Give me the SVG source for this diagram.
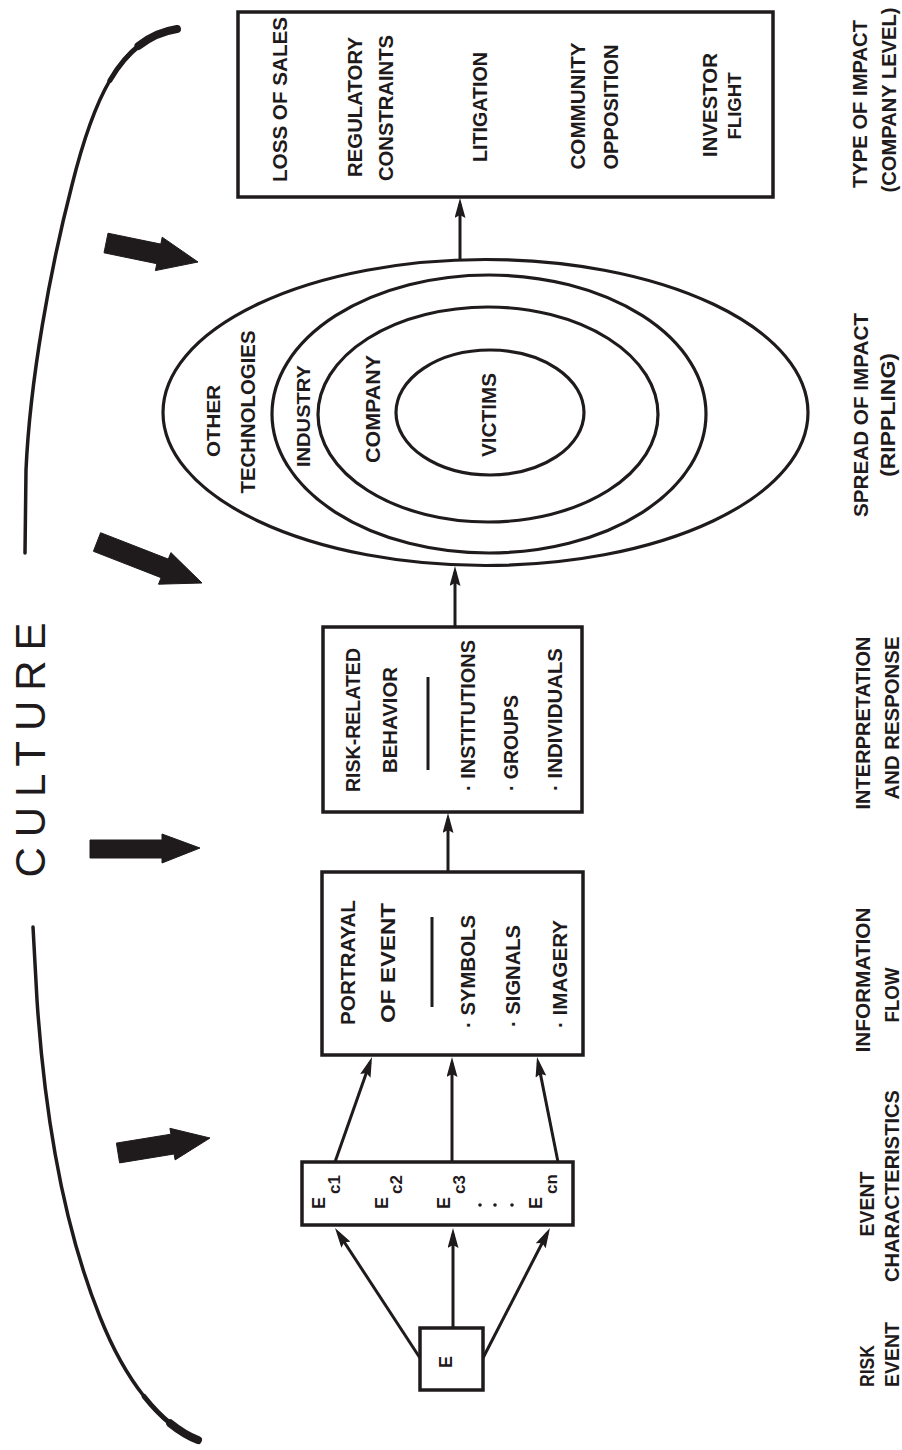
<svg xmlns="http://www.w3.org/2000/svg" width="902" height="1450" viewBox="0 0 902 1450">
<defs>
<style>
.bx{fill:none;stroke:#1f1b1c;stroke-width:3.5}
.el{fill:none;stroke:#1f1b1c;stroke-width:3.2}
.cn{fill:none;stroke:#1f1b1c;stroke-width:3}
.br{fill:none;stroke:#1f1b1c;stroke-linecap:round}
.blk{fill:#1f1b1c;stroke:#1f1b1c;stroke-width:1;stroke-linejoin:round}
.t{font-family:"Liberation Sans",Arial,sans-serif;font-weight:bold;font-size:21px;fill:#1f1b1c}
.s{font-size:18px}
.m{font-size:20px}
.c{text-anchor:middle}
.cul{font-family:"Liberation Sans",Arial,sans-serif;font-weight:normal;font-size:42px;fill:#1f1b1c;text-anchor:middle}
</style>
<marker id="ah" viewBox="0 0 20 11" refX="14" refY="5.5" markerWidth="20" markerHeight="11" markerUnits="userSpaceOnUse" orient="auto">
<path d="M0,0 L20,5.5 L0,11 L3,5.5 Z" fill="#1f1b1c"/>
</marker>
</defs>
<rect width="902" height="1450" fill="#ffffff"/>

<g id="culture">
<path class="br" stroke-width="3.5" d="M177,29 C118,38 92,105 72,185 C50,270 30,380 26,470 L25,553"/>
<path class="br" stroke-width="5" d="M177,29 C147.5,33.5 126.25,52.5 109.9,80.4"/>
<path class="br" stroke-width="8" d="M177,29 C162.25,31.25 149.56,37.125 138.5,45.9"/>
<path class="br" stroke-width="3.5" d="M33,927 L37,1000 C45,1120 65,1230 100,1317 C125,1380 160,1425 198,1440"/>
<path class="br" stroke-width="5" d="M144.1,1396.5 C160.75,1417.5 179,1432.5 198,1440"/>
<path class="br" stroke-width="8" d="M170.2,1423.3 C179.2,1430.6 188.5,1436.25 198,1440"/>
<text class="cul" transform="translate(45,750) rotate(-90)" textLength="255" lengthAdjust="spacing">CULTURE</text>
</g>

<g id="influence-arrows">
<polygon class="blk" points="108,233.2 160.8,244.1 162.2,237.2 198,262 155.4,270.6 156.8,263.7 104,252.8"/>
<polygon class="blk" points="100.6,532.7 168.3,559.1 170.9,552.6 202,583 158.5,584.2 161.1,577.7 93.4,551.3"/>
<polygon class="blk" points="90,840 162,840 162,834 200,848 162,863 162,858 90,858"/>
<polygon class="blk" points="116.4,1143.1 170.9,1134.2 169.9,1128.3 210,1138 175.1,1159.9 174.1,1154 119.6,1162.9"/>
</g>

<g id="connectors">
<line class="cn" x1="460" y1="259" x2="460" y2="204" marker-end="url(#ah)"/>
<line class="cn" x1="455" y1="627" x2="455" y2="572" marker-end="url(#ah)"/>
<line class="cn" x1="448" y1="872" x2="448" y2="819" marker-end="url(#ah)"/>
<line class="cn" x1="335" y1="1162" x2="370" y2="1062.6" marker-end="url(#ah)"/>
<line class="cn" x1="452" y1="1162" x2="452" y2="1063" marker-end="url(#ah)"/>
<line class="cn" x1="558" y1="1162" x2="538.2" y2="1062.9" marker-end="url(#ah)"/>
<line class="cn" x1="420" y1="1358" x2="338.3" y2="1233" marker-end="url(#ah)"/>
<line class="cn" x1="453" y1="1328" x2="453" y2="1234" marker-end="url(#ah)"/>
<line class="cn" x1="483" y1="1358" x2="547.2" y2="1233.3" marker-end="url(#ah)"/>
</g>

<g id="impact-type">
<rect class="bx" x="238" y="12" width="535" height="185"/>
<text class="t c" transform="translate(287,99.5) rotate(-90)" textLength="165" lengthAdjust="spacingAndGlyphs">LOSS OF SALES</text>
<text class="t c" transform="translate(362,107) rotate(-90)" textLength="140" lengthAdjust="spacingAndGlyphs">REGULATORY</text>
<text class="t c" transform="translate(393,108) rotate(-90)" textLength="146" lengthAdjust="spacingAndGlyphs">CONSTRAINTS</text>
<text class="t c" transform="translate(487,107) rotate(-90)" textLength="110" lengthAdjust="spacingAndGlyphs">LITIGATION</text>
<text class="t c" transform="translate(585,106) rotate(-90)" textLength="127" lengthAdjust="spacingAndGlyphs">COMMUNITY</text>
<text class="t c" transform="translate(618,107) rotate(-90)" textLength="125" lengthAdjust="spacingAndGlyphs">OPPOSITION</text>
<text class="t c" transform="translate(717,105) rotate(-90)" textLength="104" lengthAdjust="spacingAndGlyphs">INVESTOR</text>
<text class="t s c" transform="translate(741,106) rotate(-90)" textLength="67" lengthAdjust="spacingAndGlyphs">FLIGHT</text>
</g>

<g id="ripples">
<ellipse class="el" cx="485.5" cy="412.5" rx="322.5" ry="153"/>
<ellipse class="el" cx="489" cy="414" rx="217" ry="139"/>
<ellipse class="el" cx="488" cy="414.5" rx="170" ry="107.5"/>
<ellipse class="el" cx="490" cy="412.5" rx="94" ry="62.5"/>
<text class="t s c" transform="translate(220,421) rotate(-90)" textLength="72" lengthAdjust="spacingAndGlyphs">OTHER</text>
<text class="t c" transform="translate(255,412) rotate(-90)" textLength="163" lengthAdjust="spacingAndGlyphs">TECHNOLOGIES</text>
<text class="t s c" transform="translate(310,416) rotate(-90)" textLength="102" lengthAdjust="spacingAndGlyphs">INDUSTRY</text>
<text class="t m c" transform="translate(380,409) rotate(-90)" textLength="108" lengthAdjust="spacingAndGlyphs">COMPANY</text>
<text class="t m c" transform="translate(496,415) rotate(-90)" textLength="84" lengthAdjust="spacingAndGlyphs">VICTIMS</text>
</g>

<g id="behavior">
<rect class="bx" x="323" y="627" width="259" height="185"/>
<text class="t m c" transform="translate(360,720) rotate(-90)" textLength="144" lengthAdjust="spacingAndGlyphs">RISK-RELATED</text>
<text class="t m c" transform="translate(397,720) rotate(-90)" textLength="106" lengthAdjust="spacingAndGlyphs">BEHAVIOR</text>
<line class="cn" x1="428" y1="677" x2="428" y2="770"/>
<text class="t m" transform="translate(475,791) rotate(-90)" textLength="151" lengthAdjust="spacingAndGlyphs">· INSTITUTIONS</text>
<text class="t m" transform="translate(518,791) rotate(-90)" textLength="96" lengthAdjust="spacingAndGlyphs">· GROUPS</text>
<text class="t m" transform="translate(562,791) rotate(-90)" textLength="143" lengthAdjust="spacingAndGlyphs">· INDIVIDUALS</text>
</g>

<g id="portrayal">
<rect class="bx" x="322" y="872" width="261" height="183"/>
<text class="t m" transform="translate(355,1025) rotate(-90)" textLength="125" lengthAdjust="spacingAndGlyphs">PORTRAYAL</text>
<text class="t m" transform="translate(395,1023) rotate(-90)" textLength="120" lengthAdjust="spacingAndGlyphs">OF  EVENT</text>
<line class="cn" x1="432" y1="917" x2="432" y2="1007"/>
<text class="t m" transform="translate(475,1028) rotate(-90)" textLength="113" lengthAdjust="spacingAndGlyphs">· SYMBOLS</text>
<text class="t m" transform="translate(520,1027) rotate(-90)" textLength="102" lengthAdjust="spacingAndGlyphs">· SIGNALS</text>
<text class="t m" transform="translate(567,1028) rotate(-90)" textLength="108" lengthAdjust="spacingAndGlyphs">· IMAGERY</text>
</g>

<g id="event-characteristics">
<rect class="bx" x="302" y="1162" width="271" height="63"/>
<text class="t s" transform="translate(325,1209) rotate(-90)">E<tspan dx="3" dy="15" font-size="17">c1</tspan></text>
<text class="t s" transform="translate(388,1209) rotate(-90)">E<tspan dx="3" dy="14" font-size="17">c2</tspan></text>
<text class="t s" transform="translate(450,1209) rotate(-90)">E<tspan dx="3" dy="15" font-size="17">c3</tspan></text>
<text class="t s" transform="translate(542,1209) rotate(-90)">E<tspan dx="3" dy="15" font-size="17">cn</tspan></text>
<circle cx="480" cy="1205" r="1.8" fill="#1f1b1c"/>
<circle cx="495" cy="1205" r="1.8" fill="#1f1b1c"/>
<circle cx="512" cy="1205" r="1.8" fill="#1f1b1c"/>
</g>

<g id="risk-event">
<rect class="bx" x="420" y="1328" width="63" height="62"/>
<text class="t s c" transform="translate(452,1362) rotate(-90)">E</text>
</g>

<g id="stage-labels">
<text class="t m c" transform="translate(867,104) rotate(-90)" textLength="168" lengthAdjust="spacingAndGlyphs">TYPE OF IMPACT</text>
<text class="t m c" transform="translate(896,100) rotate(-90)" textLength="185" lengthAdjust="spacingAndGlyphs">(COMPANY LEVEL)</text>
<text class="t m c" transform="translate(868,415) rotate(-90)" textLength="204" lengthAdjust="spacingAndGlyphs">SPREAD OF IMPACT</text>
<text class="t m c" transform="translate(895,415) rotate(-90)" textLength="124" lengthAdjust="spacingAndGlyphs">(RIPPLING)</text>
<text class="t m c" transform="translate(870,723) rotate(-90)" textLength="173" lengthAdjust="spacingAndGlyphs">INTERPRETATION</text>
<text class="t m c" transform="translate(899,718) rotate(-90)" textLength="163" lengthAdjust="spacingAndGlyphs">AND RESPONSE</text>
<text class="t m c" transform="translate(870,980) rotate(-90)" textLength="145" lengthAdjust="spacingAndGlyphs">INFORMATION</text>
<text class="t m c" transform="translate(899,995) rotate(-90)" textLength="55" lengthAdjust="spacingAndGlyphs">FLOW</text>
<text class="t m c" transform="translate(874,1204) rotate(-90)" textLength="65" lengthAdjust="spacingAndGlyphs">EVENT</text>
<text class="t m c" transform="translate(899,1186) rotate(-90)" textLength="192" lengthAdjust="spacingAndGlyphs">CHARACTERISTICS</text>
<text class="t m" transform="translate(874,1387) rotate(-90)" textLength="42" lengthAdjust="spacingAndGlyphs">RISK</text>
<text class="t m" transform="translate(899,1387) rotate(-90)" textLength="65" lengthAdjust="spacingAndGlyphs">EVENT</text>
</g>
</svg>
